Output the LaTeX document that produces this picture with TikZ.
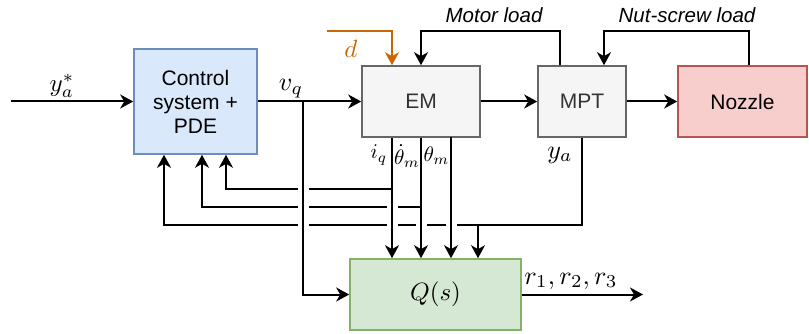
\documentclass[tikz,border=0pt]{standalone}
\usepackage{fontspec}
\setsansfont{Liberation Sans}
\usepackage{amsmath}
\usetikzlibrary{arrows.meta,positioning,calc}

\definecolor{ctrlfill}{HTML}{DAE8FC}
\definecolor{ctrldraw}{HTML}{6C8EBF}
\definecolor{plantfill}{HTML}{F5F5F5}
\definecolor{plantdraw}{HTML}{666666}
\definecolor{nozfill}{HTML}{F8CECC}
\definecolor{nozdraw}{HTML}{B85450}
\definecolor{qfill}{HTML}{D5E8D4}
\definecolor{qdraw}{HTML}{82B366}
\definecolor{dist}{HTML}{CC6600}

\newcommand{\mth}[2][2]{\scalebox{#1}{\normalsize$#2$}}

\begin{document}
\begin{tikzpicture}[
  x=1pt, y=-1pt,
  box/.style={rectangle, draw, line width=1.6pt, minimum height=71pt,
              align=center, inner sep=0pt,
              font=\sffamily\fontsize{21}{24}\selectfont},
  ctrlbox/.style={box, fill=ctrlfill, draw=ctrldraw,
                  minimum width=123pt, minimum height=105pt},
  plant/.style={box, fill=plantfill, draw=plantdraw, text=black!80},
  nozbox/.style={box, fill=nozfill, draw=nozdraw, minimum width=129pt},
  qbox/.style={box, fill=qfill, draw=qdraw, minimum width=171pt},
  arr/.style={-{Stealth[length=13pt,width=14pt,inset=4pt]}, line width=2pt},
  mlabel/.style={inner sep=0pt},
  loadlabel/.style={font=\sffamily\itshape\fontsize{20.5}{23}\selectfont, inner sep=0pt}
]
\useasboundingbox (0,0) rectangle (809,334);

% blocks
\node[ctrlbox] (ctrl) at (195.5,101.5) {Control\\system +\\PDE};
\node[plant, minimum width=118pt] (em) at (421,101.5) {EM};
\node[plant, minimum width=88pt] (mpt) at (582,101.5) {MPT};
\node[nozbox] (noz) at (742.5,101.5) {Nozzle};
\node[qbox] (q) at (435.5,294.5) {\mth[2.5]{Q(s)}};

% free ends and junctions
\coordinate (in) at (11,101.5);
\coordinate (out) at (643,294.5);
\coordinate (dsrc) at (327,31);
\coordinate (vqj) at (303,101.5);
\coordinate (iqj) at (392,189);
\coordinate (thj) at (421,207);
\coordinate (thx) at (451,137);
\coordinate (yaj) at (582,224.5);
\coordinate (yaq) at (478,224.5);

% forward path
\draw[arr] (in) -- (ctrl);
\draw[arr] (ctrl) -- (em);
\draw[arr] (em) -- (mpt);
\draw[arr] (mpt) -- (noz);
\draw[arr] (vqj) |- (q);
\draw[arr] (q) -- (out);
\draw[arr, dist] (dsrc) -| ([xshift=-29pt]em.north);

% loads
\draw[arr] ([xshift=-22pt]mpt.north) -- ++(0,-34) -| (em.north);
\draw[arr] ([xshift=6.5pt]noz.north) -- ++(0,-34) -| ([xshift=22pt]mpt.north);

% measurements into Q(s)
\draw[arr] ([xshift=-29pt]em.south) -- ([xshift=-29pt]em.south |- q.north);
\draw[arr] (em.south) -- (em.south |- q.north);
\draw[arr] (thx) -- (thx |- q.north);
\draw[arr] (yaq) -- (yaq |- q.north);

% feedback to controller (with line jumps)
\draw[arr] (iqj) -- ($(iqj -| vqj)+(5.5,0)$)
  ($(iqj -| vqj)-(5.5,0)$) -| ([xshift=30.5pt]ctrl.south);
\draw[arr] (thj) -- ($(thj -| iqj)+(5.5,0)$)
  ($(thj -| iqj)-(5.5,0)$) -- ($(thj -| vqj)+(5.5,0)$)
  ($(thj -| vqj)-(5.5,0)$) -| ([xshift=6.5pt]ctrl.south);
\draw[arr] (mpt.south) -- (yaj) -- ($(yaj -| thx)+(5.5,0)$)
  ($(yaj -| thx)-(5.5,0)$) -- ($(yaj -| thj)+(5.5,0)$)
  ($(yaj -| thj)-(5.5,0)$) -- ($(yaj -| iqj)+(5.5,0)$)
  ($(yaj -| iqj)-(5.5,0)$) -- ($(yaj -| vqj)+(5.5,0)$)
  ($(yaj -| vqj)-(5.5,0)$) -| ([xshift=-31.5pt]ctrl.south);

% labels
\node[mlabel] (yalbl) at (62,86) {\mth[2.5]{y_a^*}};
\node[mlabel] (vqlbl) at (291,89) {\mth[2.6]{v_q}};
\node[mlabel, text=dist] (dlbl) at (351,49) {\mth[2.5]{d}};
\node[loadlabel] (mlbl) at (494,15) {Motor load};
\node[loadlabel] (nlbl) at (687,15) {Nut-screw load};
\node[mlabel] (iqlbl) at (379,155) {\mth[2.1]{i_q}};
\node[mlabel] (tdlbl) at (407,156) {\mth[2.1]{\dot\theta_m}};
\node[mlabel] (tmlbl) at (436.5,156) {\mth[2.1]{\theta_m}};
\node[mlabel] (ylbl) at (560,155) {\mth[2.6]{y_a}};
\node[mlabel] (rlbl) at (571,281) {\mth[2.6]{r_1,r_2,r_3}};
\end{tikzpicture}
\end{document}
